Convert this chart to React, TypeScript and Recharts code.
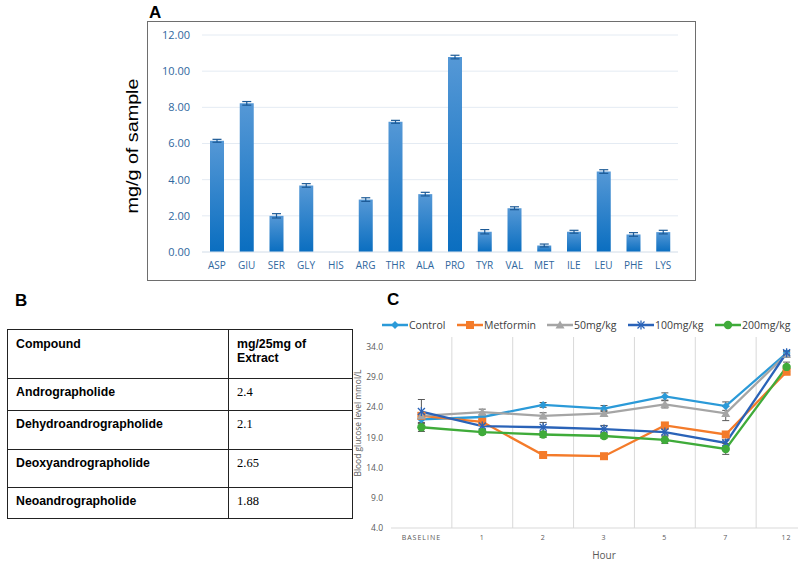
import React from 'react';
import { BarChart, Bar, XAxis, YAxis, CartesianGrid, ErrorBar, LineChart, Line } from 'recharts';

// ---------- Panel A data ----------
const aminoAcids = ['ASP', 'GIU', 'SER', 'GLY', 'HIS', 'ARG', 'THR', 'ALA', 'PRO', 'TYR', 'VAL', 'MET', 'ILE', 'LEU', 'PHE', 'LYS'];
const aminoContent = [6.15, 8.22, 2.0, 3.68, 0, 2.9, 7.2, 3.2, 10.78, 1.12, 2.42, 0.36, 1.12, 4.45, 0.97, 1.1];
const aminoError = [0.08, 0.1, 0.12, 0.1, 0, 0.1, 0.08, 0.1, 0.1, 0.12, 0.08, 0.08, 0.08, 0.1, 0.1, 0.1];
const aminoTicks = [0, 2, 4, 6, 8, 10, 12];

// ---------- Panel B data ----------
const compounds = ['Andrographolide', 'Dehydroandrographolide', 'Deoxyandrographolide', 'Neoandrographolide'];
const compoundAmounts = ['2.4', '2.1', '2.65', '1.88'];

// ---------- Panel C data ----------
const hours = ['BASELINE', '1', '2', '3', '5', '7', '12'];
const controlGlucose = [22.0, 22.4, 24.4, 23.8, 25.8, 24.2, 33.0];
const controlErr = [0.5, 0.4, 0.4, 0.5, 0.6, 0.7, 0.4];
const metforminGlucose = [22.6, 21.6, 16.1, 15.9, 21.0, 19.5, 29.9];
const metforminErr = [0.5, 0.4, 0.3, 0.3, 0.4, 0.4, 0.4];
const dose50Glucose = [22.6, 23.2, 22.6, 23.0, 24.5, 23.0, 32.8];
const dose50Err = [0.5, 0.5, 0.5, 0.5, 0.6, 1.2, 0.5];
const dose100Glucose = [23.3, 20.9, 20.7, 20.4, 19.9, 18.1, 33.05];
const dose100Err = [2.0, 0.5, 0.8, 0.6, 0.5, 0.5, 0.3];
const dose200Glucose = [20.7, 19.9, 19.5, 19.25, 18.6, 17.1, 30.7];
const dose200Err = [0.7, 0.4, 0.5, 0.4, 0.6, 0.9, 0.8];
const glucoseTicks = [4, 9, 14, 19, 24, 29, 34];

const seriesC = [
  { key: 'control', name: 'Control', color: '#2b9ad8', shape: 'diamond', values: controlGlucose, err: controlErr },
  { key: 'metformin', name: 'Metformin', color: '#f47b2a', shape: 'square', values: metforminGlucose, err: metforminErr },
  { key: 'd50', name: '50mg/kg', color: '#a5a5a5', shape: 'triangle', values: dose50Glucose, err: dose50Err },
  { key: 'd100', name: '100mg/kg', color: '#2a63b8', shape: 'star', values: dose100Glucose, err: dose100Err },
  { key: 'd200', name: '200mg/kg', color: '#3fab3a', shape: 'circle', values: dose200Glucose, err: dose200Err },
];

const barData = aminoAcids.map((name, i) => ({ name, value: aminoContent[i], err: aminoError[i] }));
const lineData = hours.map((hour, i) => {
  const row: any = { hour };
  seriesC.forEach((s) => {
    row[s.key] = s.values[i];
    row[s.key + 'Err'] = s.err[i];
  });
  return row;
});

function markerShape(shape: string, color: string, cx: number, cy: number, key?: string) {
  switch (shape) {
    case 'diamond':
      return <path key={key} d={`M${cx},${cy - 4} L${cx + 4},${cy} L${cx},${cy + 4} L${cx - 4},${cy} Z`} fill={color} />;
    case 'square':
      return <rect key={key} x={cx - 4} y={cy - 4} width={8} height={8} fill={color} />;
    case 'triangle':
      return <path key={key} d={`M${cx},${cy - 4.5} L${cx + 4.5},${cy + 3.5} L${cx - 4.5},${cy + 3.5} Z`} fill={color} />;
    case 'star':
      return (
        <g key={key} stroke={color} strokeWidth={1.3}>
          <line x1={cx - 3.5} y1={cy - 3.5} x2={cx + 3.5} y2={cy + 3.5} />
          <line x1={cx - 3.5} y1={cy + 3.5} x2={cx + 3.5} y2={cy - 3.5} />
          <line x1={cx} y1={cy - 4.5} x2={cx} y2={cy + 4.5} />
        </g>
      );
    default:
      return <circle key={key} cx={cx} cy={cy} r={4.2} fill={color} />;
  }
}

const makeDot = (shape: string, color: string) => (props: any) => {
  const { cx, cy, index } = props;
  if (cx == null || cy == null) return <g key={`e-${index}`} />;
  return markerShape(shape, color, cx, cy, `${shape}-${index}`);
};

const gridGenerator = (props: any) => {
  const off = props.offset;
  const res: number[] = [];
  for (let k = 1; k < hours.length; k++) res.push(off.left + (k * off.width) / hours.length);
  return res;
};

const sans = 'Arial, "Liberation Sans", sans-serif';
const calib = '"Open Sans", sans-serif';

export default function App() {
  return (
    <div style={{ position: 'absolute', left: 0, top: 0, width: 798, height: 563, overflow: 'hidden', background: '#fff' }}>
      {/* Panel labels */}
      <div style={{ position: 'absolute', left: 149, top: 4, fontFamily: sans, fontWeight: 'bold', fontSize: 17, lineHeight: '17px' }}>A</div>
      <div style={{ position: 'absolute', left: 15, top: 292, fontFamily: sans, fontWeight: 'bold', fontSize: 17, lineHeight: '17px' }}>B</div>
      <div style={{ position: 'absolute', left: 387, top: 291, fontFamily: sans, fontWeight: 'bold', fontSize: 17, lineHeight: '17px' }}>C</div>

      {/* Panel A */}
      <div style={{ position: 'absolute', left: 147, top: 21, width: 549, height: 260, border: '1px solid #6e6e6e', boxSizing: 'border-box' }} />
      <svg style={{ position: 'absolute', left: 120, top: 60, overflow: 'visible' }} width={26} height={170}>
        <text x={0} y={0} transform="translate(18 86) rotate(-90)" textAnchor="middle" fontFamily={sans} fontSize={16} fill="#000" textLength={135} lengthAdjust="spacingAndGlyphs">
          mg/g of sample
        </text>
      </svg>
      <div style={{ position: 'absolute', left: 120, top: 21 }}>
        <BarChart width={576} height={260} data={barData} margin={{ top: 14, right: 18, bottom: 0, left: 0 }}>
          <defs>
            <linearGradient id="barGrad" x1="0" y1="0" x2="0" y2="1">
              <stop offset="0" stopColor="#5598d6" />
              <stop offset="1" stopColor="#0a6ec0" />
            </linearGradient>
          </defs>
          <CartesianGrid vertical={false} stroke="#e4ebf3" />
          <XAxis
            dataKey="name"
            height={29}
            tickLine={false}
            tickSize={0}
            tickMargin={10}
            axisLine={{ stroke: '#dfe6ee' }}
            interval={0}
            tick={{ fill: '#2f679e', fontSize: 10, fontFamily: calib }}
          />
          <YAxis
            width={82}
            domain={[0, 12]}
            ticks={aminoTicks}
            tickFormatter={(v: number) => v.toFixed(2)}
            axisLine={false}
            tickLine={false}
            tickSize={0}
            tickMargin={12}
            tick={{ fill: '#2f679e', fontSize: 11, fontFamily: calib }}
          />
          <Bar dataKey="value" fill="url(#barGrad)" barSize={14} isAnimationActive={false}>
            <ErrorBar dataKey="err" width={4.5} stroke="#1c5a96" strokeWidth={1.2} />
          </Bar>
        </BarChart>
      </div>

      {/* Panel B */}
      <table
        style={{
          position: 'absolute',
          left: 7,
          top: 329,
          width: 345,
          borderCollapse: 'collapse',
          tableLayout: 'fixed',
          fontFamily: sans,
          fontSize: 12.3,
          color: '#000',
        }}
      >
        <colgroup>
          <col style={{ width: 221 }} />
          <col style={{ width: 124 }} />
        </colgroup>
        <tbody>
          <tr style={{ height: 49 }}>
            <td style={{ border: '1px solid #222', verticalAlign: 'top', padding: '7px 8px 0 8px', fontWeight: 'bold', lineHeight: '14px' }}>Compound</td>
            <td style={{ border: '1px solid #222', verticalAlign: 'top', padding: '7px 8px 0 8px', fontWeight: 'bold', lineHeight: '14px' }}>
              mg/25mg of
              <br />
              Extract
            </td>
          </tr>
          {compounds.map((c, i) => (
            <tr key={c} style={{ height: [32, 39, 38, 31][i] }}>
              <td style={{ border: '1px solid #222', verticalAlign: 'top', padding: '6px 8px 0 8px', fontWeight: 'bold', lineHeight: '14px' }}>{c}</td>
              <td style={{ border: '1px solid #222', verticalAlign: 'top', padding: '6px 8px 0 8px', fontFamily: '"Liberation Serif", "Times New Roman", serif', fontSize: 12.5, lineHeight: '14px' }}>
                {compoundAmounts[i]}
              </td>
            </tr>
          ))}
        </tbody>
      </table>

      {/* Panel C legend */}
      {seriesC.map((s, i) => {
        const lefts = [382, 457, 547, 628, 715];
        return (
          <div key={s.key} style={{ position: 'absolute', left: lefts[i], top: 318, height: 14, display: 'flex', alignItems: 'center' }}>
            <svg width={26} height={12}>
              <line x1={0} y1={6} x2={26} y2={6} stroke={s.color} strokeWidth={2.5} />
              {markerShape(s.shape, s.color, 13, 6)}
            </svg>
            <span style={{ fontFamily: calib, fontSize: 10.5, color: '#404040', lineHeight: '14px', marginLeft: 1 }}>{s.name}</span>
          </div>
        );
      })}

      {/* Panel C y label */}
      <svg style={{ position: 'absolute', left: 350, top: 365, overflow: 'visible' }} width={16} height={115}>
        <text x={0} y={0} transform="translate(11 58) rotate(-90)" textAnchor="middle" fontFamily={calib} fontSize={8.5} fill="#595959" textLength={107} lengthAdjust="spacingAndGlyphs">
          Blood glucose level mmol/L
        </text>
      </svg>

      {/* Panel C chart */}
      <div style={{ position: 'absolute', left: 350, top: 315 }}>
        <LineChart width={467} height={248} data={lineData} margin={{ top: 22, right: 0, bottom: 0, left: 0 }}>
          <CartesianGrid horizontal={false} stroke="#d9d9d9" verticalCoordinatesGenerator={gridGenerator} />
          <XAxis
            dataKey="hour"
            height={35}
            padding={{ left: 30.4, right: 30.4 }}
            tickLine={false}
            tickSize={0}
            tickMargin={7}
            interval={0}
            axisLine={{ stroke: '#d9d9d9' }}
            tick={{ fill: '#595959', fontSize: 7, fontFamily: calib, letterSpacing: 1 }}
            label={{ value: 'Hour', position: 'insideBottom', offset: 4, fill: '#595959', fontSize: 10, fontFamily: calib }}
          />
          <YAxis
            width={41}
            domain={[4, 35.66]}
            ticks={glucoseTicks}
            tickFormatter={(v: number) => v.toFixed(1)}
            axisLine={false}
            tickLine={false}
            tickSize={0}
            tickMargin={8}
            tick={{ fill: '#595959', fontSize: 8.5, fontFamily: calib }}
          />
          {seriesC.map((s) => (
            <Line
              key={s.key}
              dataKey={s.key}
              name={s.name}
              stroke={s.color}
              strokeWidth={2.3}
              dot={makeDot(s.shape, s.color)}
              activeDot={false}
              isAnimationActive={false}
            >
              <ErrorBar dataKey={s.key + 'Err'} width={3.5} stroke="#595959" strokeWidth={1} direction="y" />
            </Line>
          ))}
        </LineChart>
      </div>
    </div>
  );
}
